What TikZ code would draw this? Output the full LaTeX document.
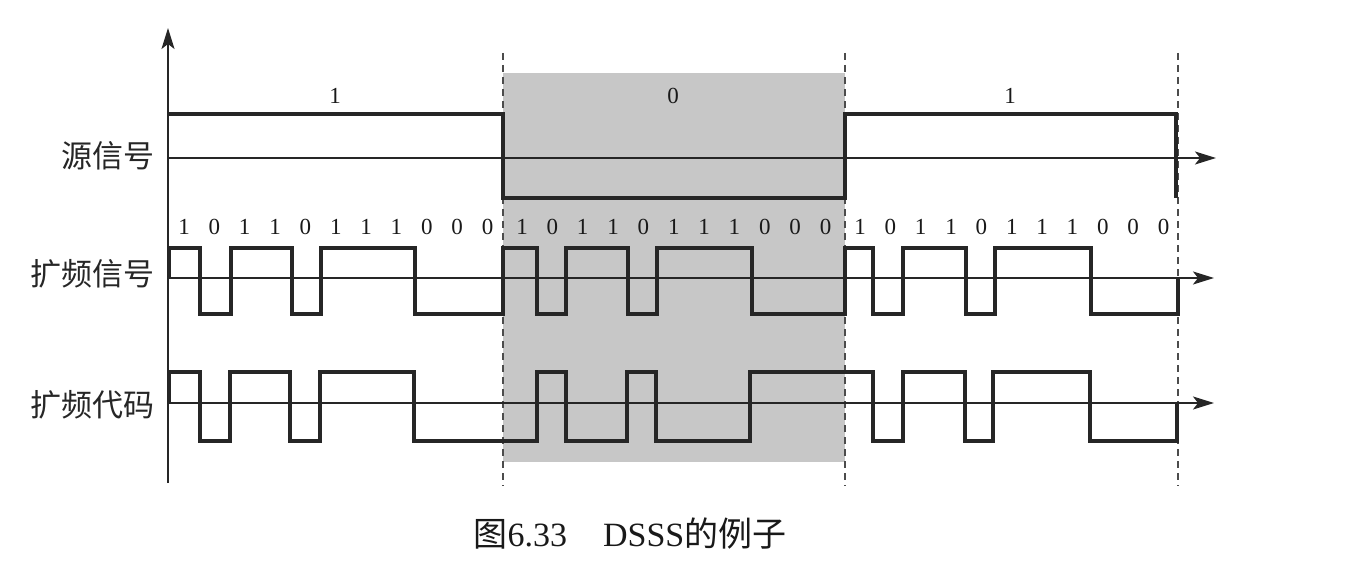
\documentclass[tikz,border=0pt]{standalone}
\usepackage{fontspec}
\setmainfont{Liberation Serif}
\newfontfamily\cjk{Noto Sans CJK SC}
\usetikzlibrary{arrows.meta}
\begin{document}
\begin{tikzpicture}[x=1pt,y=-1pt,line join=miter,
  wave/.style={line width=3.4pt,black!85},
  axisline/.style={line width=1.8pt,black!85},
  guide/.style={line width=1.7pt,dash pattern=on 7pt off 5pt,black!70},
  bit/.style={font=\fontsize{23}{23}\selectfont,inner sep=0pt,text=black!90},
  lab/.style={font=\cjk\fontsize{31}{31}\selectfont,anchor=east,inner sep=0pt,text=black!85},
  tip/.style={-{Stealth[length=21pt,width=13pt,inset=5pt]}}]
\useasboundingbox (0,0) rectangle (1366,586);
% shaded bit period
\fill[black!22] (503,73) rectangle (845,462);
% dashed period boundaries
\draw[guide] (503,53) -- (503,486);
\draw[guide] (845,53) -- (845,486);
\draw[guide] (1178,53) -- (1178,486);
% axes
\draw[axisline,tip] (168,483) -- (168,28);
\draw[axisline,tip] (168,158) -- (1216,158);
\draw[axisline,tip] (168,278) -- (1214,278);
\draw[axisline,tip] (168,403) -- (1214,403);
% source signal
\draw[wave] (168,114) -- (503,114) -- (503,198) -- (845,198) -- (845,114) -- (1176,114) -- (1176,198);
% spread signal
\draw[wave] (169,278) -- (169,248) -- (200,248) -- (200,314) -- (231,314) -- (231,248) -- (292,248) -- (292,314) -- (321,314) -- (321,248) -- (415,248) -- (415,314) -- (503,314) -- (503,248) -- (537,248) -- (537,314) -- (566,314) -- (566,248) -- (628,248) -- (628,314) -- (657,314) -- (657,248) -- (752,248) -- (752,314) -- (845,314) -- (845,248) -- (873,248) -- (873,314) -- (903,314) -- (903,248) -- (966,248) -- (966,314) -- (995,314) -- (995,248) -- (1091,248) -- (1091,314) -- (1178,314) -- (1178,278);
% spreading code
\draw[wave] (169,403) -- (169,372) -- (200,372) -- (200,441) -- (230,441) -- (230,372) -- (290,372) -- (290,441) -- (320,441) -- (320,372) -- (414,372) -- (414,441) -- (537,441) -- (537,372) -- (566,372) -- (566,441) -- (627,441) -- (627,372) -- (656,372) -- (656,441) -- (750,441) -- (750,372) -- (873,372) -- (873,441) -- (903,441) -- (903,372) -- (965,372) -- (965,441) -- (993,441) -- (993,372) -- (1090,372) -- (1090,441) -- (1177,441) -- (1177,403);
% source bit labels
\node[bit] (s0) at (335,96) {1};
\node[bit] (s1) at (673,96) {0};
\node[bit] (s2) at (1010,96) {1};
% chip labels
\foreach \p/\s in {0/184,1/522,2/860}{
  \foreach \b [count=\j from 0] in {1,0,1,1,0,1,1,1,0,0,0}{
    \node[bit] (c\p-\j) at (\s+\j*30.35,227) {\b};
  }
}
% row labels
\node[lab] (src) at (155,156) {源信号};
\node[lab] (spr) at (155,274) {扩频信号};
\node[lab] (code) at (155,405) {扩频代码};
% caption
\node[inner sep=0pt,font=\fontsize{34}{34}\selectfont,text=black!90] (cap) at (630,534) {{\cjk 图}6.33\hspace{36pt}DSSS{\cjk 的例子}};
\end{tikzpicture}
\end{document}
